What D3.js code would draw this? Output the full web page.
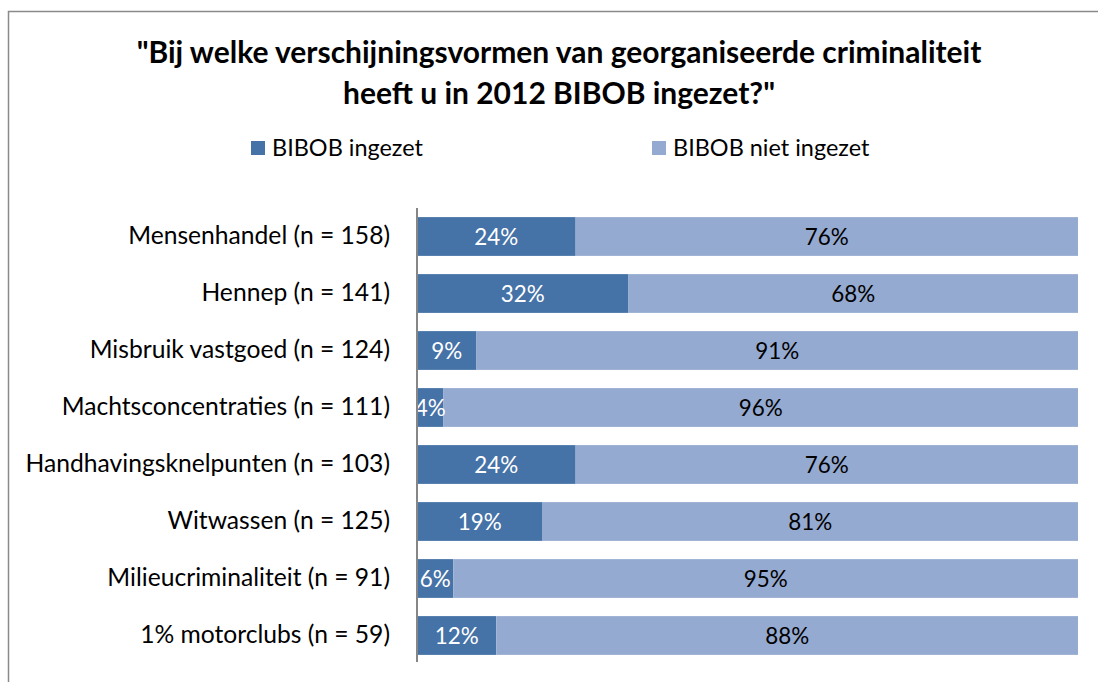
<!DOCTYPE html>
<html>
<head>
<meta charset="utf-8">
<script src="https://cdn.jsdelivr.net/npm/d3@7"></script>
<style>
  html, body { margin: 0; padding: 0; background: #fff; }
  svg { display: block; }
  text { font-family: Lato, "Open Sans", sans-serif; }
</style>
</head>
<body>
<svg id="chart" width="1098" height="682"></svg>
<script>
// ---- data ----
const categories = [
  "Mensenhandel (n = 158)",
  "Hennep (n = 141)",
  "Misbruik vastgoed (n = 124)",
  "Machtsconcentraties (n = 111)",
  "Handhavingsknelpunten (n = 103)",
  "Witwassen (n = 125)",
  "Milieucriminaliteit (n = 91)",
  "1% motorclubs (n = 59)"
];
const seriesNames = ["BIBOB ingezet", "BIBOB niet ingezet"];
const ingezet    = [24, 32, 9, 4, 24, 19, 5.5, 12];
const nietIngezet = [76, 68, 91, 96, 76, 81, 94.5, 88];
const titleLines = [
  "\"Bij welke verschijningsvormen van georganiseerde criminaliteit",
  "heeft u in 2012 BIBOB ingezet?\""
];

// ---- layout ----
const svg = d3.select("#chart");
const W = 1098, H = 682;
const plot = { left: 417, right: 1078, top: 208, bottom: 664 };
const colors = ["#4572A7", "#95AAD1"];

// fit font size so a text element reaches a target width
function fit(sel, target, base) {
  sel.style("font-size", base + "px");
  const w = sel.node().getComputedTextLength();
  return base * target / w;
}

// chart frame
svg.append("rect")
  .attr("x", 8.5).attr("y", 11.5)
  .attr("width", W + 20).attr("height", H + 20)
  .attr("fill", "#fff").attr("stroke", "#8a8a8a").attr("stroke-width", 1.5);

// title
const t1 = svg.append("text").attr("x", 559).attr("y", 63)
  .attr("text-anchor", "middle").attr("font-weight", "bold").attr("fill", "#000")
  .text(titleLines[0]);
const titleFs = fit(t1, 845, 28);
t1.style("font-size", titleFs + "px");
svg.append("text").attr("x", 559).attr("y", 104)
  .attr("text-anchor", "middle").attr("font-weight", "bold").attr("fill", "#000")
  .style("font-size", titleFs + "px")
  .text(titleLines[1]);

// scales
const y = d3.scaleBand().domain(categories)
  .range([plot.top, plot.bottom]).paddingInner(0.32).paddingOuter(0.16);
const x = d3.scaleLinear().domain([0, 100]).range([plot.left, plot.right]);

// legend
const legX = [251, 652];
const legG = svg.append("g");
let legFs = null;
seriesNames.forEach((name, i) => {
  legG.append("rect").attr("x", legX[i]).attr("y", 141).attr("width", 14).attr("height", 14)
    .attr("fill", colors[i]);
  const tx = legG.append("text").attr("x", legX[i] + 21).attr("y", 156)
    .attr("fill", "#000").text(name);
  if (i === 0) legFs = fit(tx, 151, 22);
  tx.style("font-size", legFs + "px");
});

// stacked data
const rows = categories.map((c, i) => ({ cat: c, a: ingezet[i], b: nietIngezet[i] }));
const stack = d3.stack().keys(["a", "b"])(rows);

svg.append("defs").append("clipPath").attr("id", "plotclip")
  .append("rect").attr("x", plot.left).attr("y", plot.top)
  .attr("width", plot.right - plot.left).attr("height", plot.bottom - plot.top);

const layers = svg.append("g").selectAll("g").data(stack).join("g")
  .attr("fill", (d, i) => colors[i]);
layers.selectAll("rect").data(d => d).join("rect")
  .attr("x", d => x(d[0]))
  .attr("y", d => y(d.data.cat))
  .attr("width", d => x(d[1]) - x(d[0]))
  .attr("height", y.bandwidth());

// data labels
const labG = svg.append("g").attr("clip-path", "url(#plotclip)");
const probe = labG.append("text").text("24%");
const labFs = fit(probe, 44, 24);
probe.remove();
stack.forEach((layer, li) => {
  labG.selectAll(null).data(layer).join("text")
    .attr("x", d => (x(d[0]) + x(d[1])) / 2)
    .attr("y", d => y(d.data.cat) + y.bandwidth() / 2)
    .attr("dy", "0.36em")
    .attr("text-anchor", "middle")
    .attr("fill", li === 0 ? "#fff" : "#000")
    .style("font-size", labFs + "px")
    .text(d => Math.round(d[1] - d[0]) + "%");
});

// category axis
const yAxis = svg.append("g").attr("transform", `translate(${plot.left},0)`)
  .call(d3.axisLeft(y).tickSize(0).tickPadding(27));
yAxis.select(".domain").attr("stroke", "#868686").attr("stroke-width", 2)
  .attr("d", `M0,${plot.top}V${plot.bottom - 2}`);
const probe2 = yAxis.select(".tick text");
const catFs = fit(probe2, 262, 22);
yAxis.selectAll(".tick text")
  .style("font-size", catFs + "px")
  .style("font-family", "Lato, 'Open Sans', sans-serif")
  .attr("fill", "#000");
</script>
</body>
</html>
